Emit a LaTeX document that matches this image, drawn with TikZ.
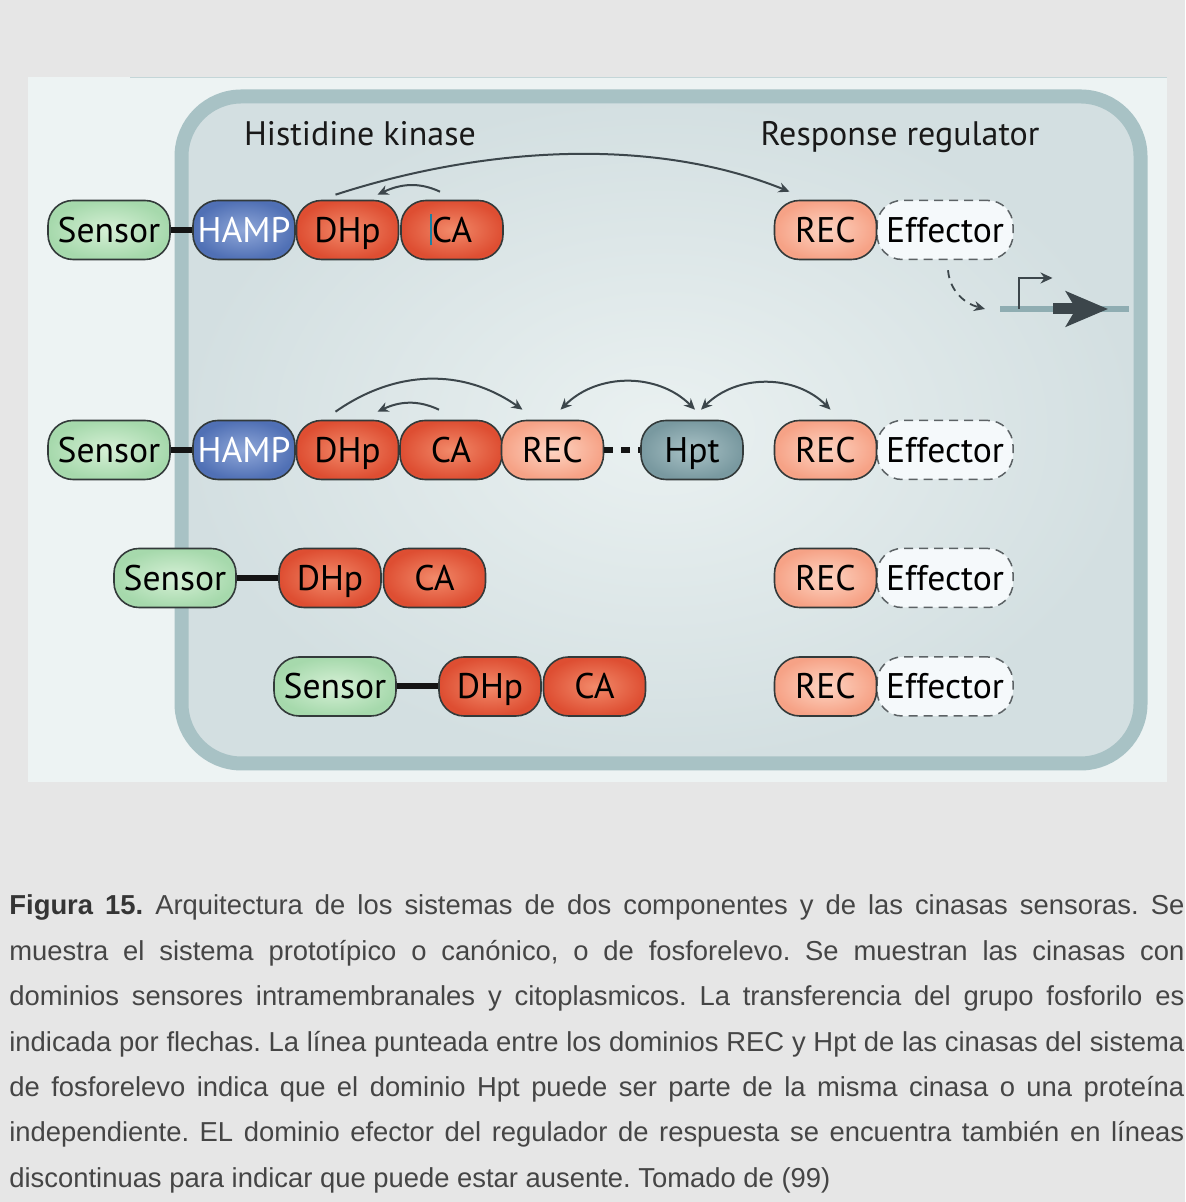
\documentclass[tikz,border=0pt]{standalone}
\usepackage{fontspec}
\setmainfont{PT Sans}
\newfontfamily\capfont{Liberation Sans}
\usetikzlibrary{positioning,arrows.meta}
\definecolor{pagebg}{HTML}{E6E6E6}
\definecolor{panelbg}{HTML}{EDF3F3}
\definecolor{panelline}{HTML}{C4D6D8}
\definecolor{wall}{HTML}{A8C2C5}
\definecolor{cellin}{HTML}{EAF1F1}
\definecolor{cellout}{HTML}{D3DFE1}
\definecolor{domline}{HTML}{333A3A}
\definecolor{sensin}{HTML}{D6F0D6}
\definecolor{sensout}{HTML}{A6D9AC}
\definecolor{hampin}{HTML}{8FA7D8}
\definecolor{hampout}{HTML}{5070B5}
\definecolor{kinin}{HTML}{F28A6A}
\definecolor{kinout}{HTML}{DE4E32}
\definecolor{recin}{HTML}{FDD5C3}
\definecolor{recout}{HTML}{F6A286}
\definecolor{hptin}{HTML}{A9C2C6}
\definecolor{hptout}{HTML}{7999A0}
\definecolor{efffill}{HTML}{F5F9FB}
\definecolor{effline}{HTML}{5C6265}
\definecolor{arrowc}{HTML}{3C464B}
\definecolor{genec}{HTML}{8FADB2}
\definecolor{caret}{HTML}{1A80A2}
\definecolor{captext}{HTML}{454545}
\definecolor{capbold}{HTML}{353535}
\newcommand{\domfont}{\fontsize{17.8pt}{20pt}\selectfont}
\tikzset{
  dom/.style={draw=domline, line width=0.8pt, rounded corners=12.5pt, minimum width=51pt,
              minimum height=29.5pt, inner sep=0pt, text height=12.4pt, text depth=0pt,
              font=\domfont, text=black},
  sensor/.style={dom, minimum width=61pt, inner color=sensin, outer color=sensout},
  hamp/.style={dom, inner color=hampin, outer color=hampout, text=white},
  kin/.style={dom, inner color=kinin, outer color=kinout},
  rec/.style={dom, inner color=recin, outer color=recout},
  hpt/.style={dom, inner color=hptin, outer color=hptout},
  effector/.style={dom, minimum width=68pt, draw=effline, line width=0.75pt,
                   dash pattern=on 4.5pt off 3pt, fill=efffill},
  link/.style={draw=black!92, line width=3pt},
  hptlink/.style={link, dash pattern=on 4.5pt off 4pt},
  phos/.style={draw=arrowc, line width=1pt, -{Stealth[length=5.5pt,width=5pt]}},
  phosb/.style={phos, {Stealth[length=5.5pt,width=5pt]}-{Stealth[length=5.5pt,width=5pt]}},
  effarr/.style={phos, line width=0.9pt, dash pattern=on 4pt off 3pt},
  geneline/.style={draw=genec, line width=3pt},
  promarr/.style={draw=arrowc, line width=1pt, -{Stealth[length=6pt,width=5.5pt]}},
  genearr/.style={draw=arrowc, line width=5.5pt, -{Stealth[length=21pt,width=17.5pt,inset=5pt]}},
  head/.style={anchor=base, font=\fontsize{17pt}{20pt}\selectfont, text=black!90},
  capline/.style={anchor=base west, inner sep=0pt, text=captext,
                  font=\capfont\fontsize{13.7pt}{15pt}\selectfont\frenchspacing},
}

\begin{document}
\begin{tikzpicture}[x=0.5pt, y=0.5pt]
  \useasboundingbox (0,0) rectangle (1185,1202);
  \fill[pagebg] (0,0) rectangle (1185,1202);
  % figure panel and cell
  \fill[panelbg] (28,420) rectangle (1167,1125);
  \draw[panelline] (130,1125) -- (1167,1125);
  \draw[wall, line width=7pt, rounded corners=30pt, inner color=cellin, outer color=cellout]
    (181.5,438.5) rectangle (1140.5,1105.5);

  \node[head] (hk) at (360,1056) {Histidine kinase};
  \node[head] (rr) at (900,1056) {Response regulator};

  % canonical system
  \node[sensor] (sens1) at (109,972) {Sensor};
  \node[hamp] (hamp1) at (244,972) {HAMP};
  \node[kin] (dhp1) at (347.5,972) {DHp};
  \node[kin] (ca1) at (452,972) {\llap{\color{caret}\rule[-0.15ex]{0.9pt}{1.75ex}}CA};
  \node[effector] (eff1) at (945,972) {Effector};
  \node[rec] (rec1) at (825.5,972) {REC};
  \draw[link] (sens1) -- (hamp1);
  \draw[phos] ([xshift=-6pt,yshift=4pt]ca1.north) to[out=155,in=25] ([xshift=15pt,yshift=2.5pt]dhp1.north);
  \draw[phos] ([xshift=-6pt,yshift=2.5pt]dhp1.north) to[out=18,in=158,looseness=0.85] ([xshift=-18pt,yshift=4pt]rec1.north);

  % target gene
  \coordinate (gene) at (1000,893);
  \coordinate (geneend) at (1129,893);
  \coordinate (prom) at (1018.5,893);
  \coordinate (orf) at (1053,893);
  \coordinate (orftip) at (1108,893);
  \draw[geneline] (gene) -- (geneend);
  \draw[promarr] (prom) -- ++(0,31) -- ++(34,0);
  \draw[genearr] (orf) -- (orftip);
  \draw[effarr] ([xshift=1.5pt,yshift=-5pt]eff1.south) to[out=-85,in=165] ([xshift=-7.5pt]gene);

  % phosphorelay
  \node[sensor] (sens2) at (109,752) {Sensor};
  \node[hamp] (hamp2) at (244,752) {HAMP};
  \node[kin] (dhp2) at (347.5,752) {DHp};
  \node[kin] (ca2) at (451,752) {CA};
  \node[rec] (rec2a) at (552.5,752) {REC};
  \node[hpt] (hpt2) at (692,752) {Hpt};
  \node[effector] (eff2) at (945,752) {Effector};
  \node[rec] (rec2) at (825.5,752) {REC};
  \draw[link] (sens2) -- (hamp2);
  \draw[hptlink] (rec2a) -- (hpt2);
  \draw[phos] ([xshift=-6pt,yshift=5pt]ca2.north) to[out=155,in=25] ([xshift=15pt,yshift=4pt]dhp2.north);
  \draw[phos] ([xshift=-6pt,yshift=4pt]dhp2.north) to[out=35,in=145] ([xshift=-15pt,yshift=5pt]rec2a.north);
  \draw[phosb] ([xshift=4pt,yshift=5pt]rec2a.north) to[out=45,in=135] ([xshift=1.5pt,yshift=5pt]hpt2.north);
  \draw[phosb] ([xshift=4.5pt,yshift=5pt]hpt2.north) to[out=45,in=135] ([xshift=2.5pt,yshift=5pt]rec2.north);

  % cytoplasmic sensors
  \node[sensor] (sens3) at (175,624) {Sensor};
  \node[kin] (dhp3) at (330,624) {DHp};
  \node[kin] (ca3) at (434.5,624) {CA};
  \node[effector] (eff3) at (945,624) {Effector};
  \node[rec] (rec3) at (825.5,624) {REC};
  \draw[link] (sens3) -- (dhp3);

  \node[sensor] (sens4) at (335,515.5) {Sensor};
  \node[kin] (dhp4) at (490,515.5) {DHp};
  \node[kin] (ca4) at (594.5,515.5) {CA};
  \node[effector] (eff4) at (945,515.5) {Effector};
  \node[rec] (rec4) at (825.5,515.5) {REC};
  \draw[link] (sens4) -- (dhp4);

  % caption
  \node[capline] (cap1) at (9,287) {\makebox[587.5pt][s]{{\color{capbold}\textbf{Figura 15.}} Arquitectura de los sistemas de dos componentes y de las cinasas sensoras. Se}};
  \node[capline] (cap2) at (9,241.5) {\makebox[587.5pt][s]{muestra el sistema prototípico o canónico, o de fosforelevo. Se muestran las cinasas con}};
  \node[capline] (cap3) at (9,196) {\makebox[587.5pt][s]{dominios sensores intramembranales y citoplasmicos. La transferencia del grupo fosforilo es}};
  \node[capline] (cap4) at (9,150.5) {\makebox[587.5pt][s]{indicada por flechas. La línea punteada entre los dominios REC y Hpt de las cinasas del sistema}};
  \node[capline] (cap5) at (9,105) {\makebox[587.5pt][s]{de fosforelevo indica que el dominio Hpt puede ser parte de la misma cinasa o una proteína}};
  \node[capline] (cap6) at (9,60) {\makebox[587.5pt][s]{independiente. EL dominio efector del regulador de respuesta se encuentra también en líneas}};
  \node[capline] (cap7) at (9,14.5) {discontinuas para indicar que puede estar ausente. Tomado de (99)};
\end{tikzpicture}
\end{document}
